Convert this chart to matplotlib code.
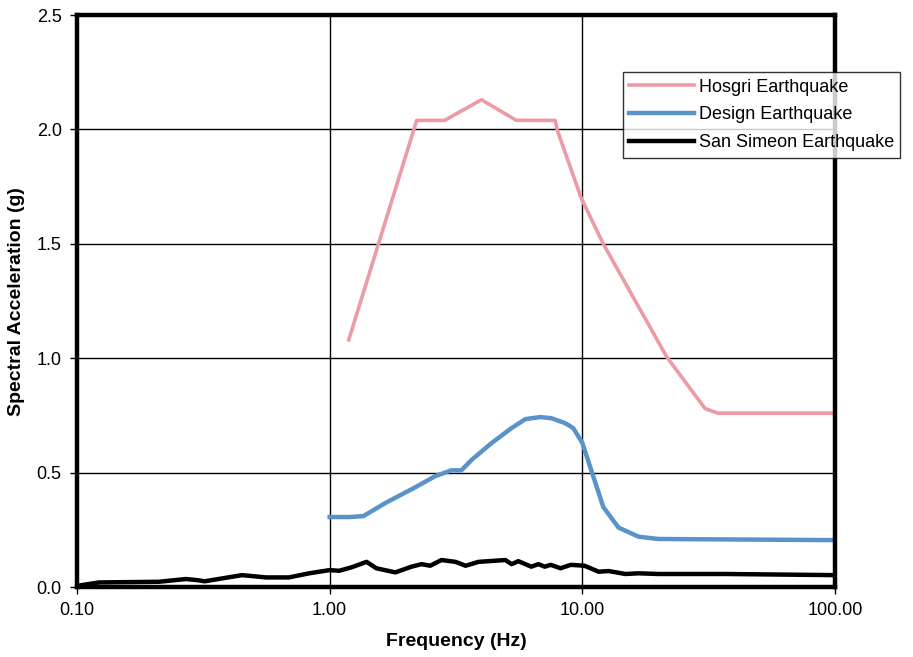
import matplotlib.pyplot as plt
from matplotlib.ticker import FixedLocator, NullLocator

plt.rcParams['font.family'] = ['Liberation Sans', 'DejaVu Sans']

# Hosgri Earthquake spectrum
hosgri_f = [1.19, 2.21, 2.85, 3.99, 5.48, 7.8, 8.0, 9.9, 12.1, 21.6, 30.6, 34.4, 100.0]
hosgri_a = [1.08, 2.04, 2.04, 2.13, 2.04, 2.04, 1.99, 1.70, 1.50, 1.005, 0.78, 0.76, 0.76]

# Design Earthquake spectrum
design_f = [1.0, 1.2, 1.36, 1.66, 2.19, 2.62, 3.03, 3.32, 3.64, 4.37, 5.25, 5.95, 6.82,
            7.54, 8.56, 9.2, 10.0, 12.1, 13.9, 16.7, 20.0, 100.0]
design_a = [0.306, 0.306, 0.31, 0.367, 0.437, 0.485, 0.51, 0.51, 0.555, 0.629, 0.695,
            0.734, 0.743, 0.738, 0.716, 0.695, 0.63, 0.35, 0.26, 0.22, 0.21, 0.205]

# San Simeon Earthquake spectrum
simeon_f = [0.1, 0.122, 0.211, 0.27, 0.30, 0.32, 0.45, 0.56, 0.69, 0.83, 1.0, 1.09, 1.22,
            1.40, 1.53, 1.82, 2.11, 2.31, 2.5, 2.77, 3.15, 3.45, 3.88, 4.96, 5.25, 5.58,
            6.28, 6.7, 7.1, 7.5, 8.2, 9.0, 10.2, 11.6, 12.7, 14.8, 16.7, 20.0, 36.7, 100.0]
simeon_a = [0.005, 0.02, 0.023, 0.035, 0.03, 0.025, 0.052, 0.042, 0.042, 0.06, 0.074,
            0.071, 0.086, 0.11, 0.082, 0.064, 0.089, 0.10, 0.093, 0.118, 0.11, 0.093,
            0.11, 0.118, 0.10, 0.113, 0.089, 0.10, 0.089, 0.097, 0.082, 0.097, 0.093,
            0.067, 0.07, 0.057, 0.06, 0.057, 0.057, 0.052]

x_ticks = [0.1, 1.0, 10.0, 100.0]
x_labels = ['0.10', '1.00', '10.00', '100.00']
y_ticks = [0.0, 0.5, 1.0, 1.5, 2.0, 2.5]


def main():
    fig = plt.figure(figsize=(9.13, 6.57), dpi=100)
    ax = fig.add_axes([0.0843, 0.1065, 0.8303, 0.8705])

    ax.plot(hosgri_f, hosgri_a, color='#ec9aa4', lw=2.6, label='Hosgri Earthquake')
    ax.plot(design_f, design_a, color='#5a93c9', lw=3.2, label='Design Earthquake')
    ax.plot(simeon_f, simeon_a, color='black', lw=3.2, label='San Simeon Earthquake')

    ax.set_xscale('log')
    ax.set_xlim(0.1, 100)
    ax.set_ylim(0, 2.5)
    ax.xaxis.set_major_locator(FixedLocator(x_ticks))
    ax.xaxis.set_minor_locator(NullLocator())
    ax.set_xticklabels(x_labels)
    ax.set_yticks(y_ticks)
    ax.set_yticklabels([f'{v:.1f}' for v in y_ticks])

    ax.grid(True, color='black', lw=1.0)
    ax.set_axisbelow(True)
    for s in ax.spines.values():
        s.set_linewidth(3.2)
        s.set_color('black')
    ax.tick_params(axis='both', labelsize=13, length=5, width=1, direction='out', pad=6)

    ax.set_xlabel('Frequency (Hz)', fontsize=14, fontweight='bold', labelpad=10)
    ax.set_ylabel('Spectral Acceleration (g)', fontsize=14, fontweight='bold', labelpad=8)

    leg = ax.legend(loc='upper left', bbox_to_anchor=(0.720, 0.900), fontsize=13,
                    frameon=True, fancybox=False, handlelength=3.6, handletextpad=0.25,
                    borderpad=0.35, labelspacing=0.6, borderaxespad=0)
    leg.get_frame().set_edgecolor('black')
    leg.get_frame().set_linewidth(1.0)
    leg.set_zorder(5)

    fig.savefig('out.png', dpi=100)


if __name__ == "__main__":
    main()
